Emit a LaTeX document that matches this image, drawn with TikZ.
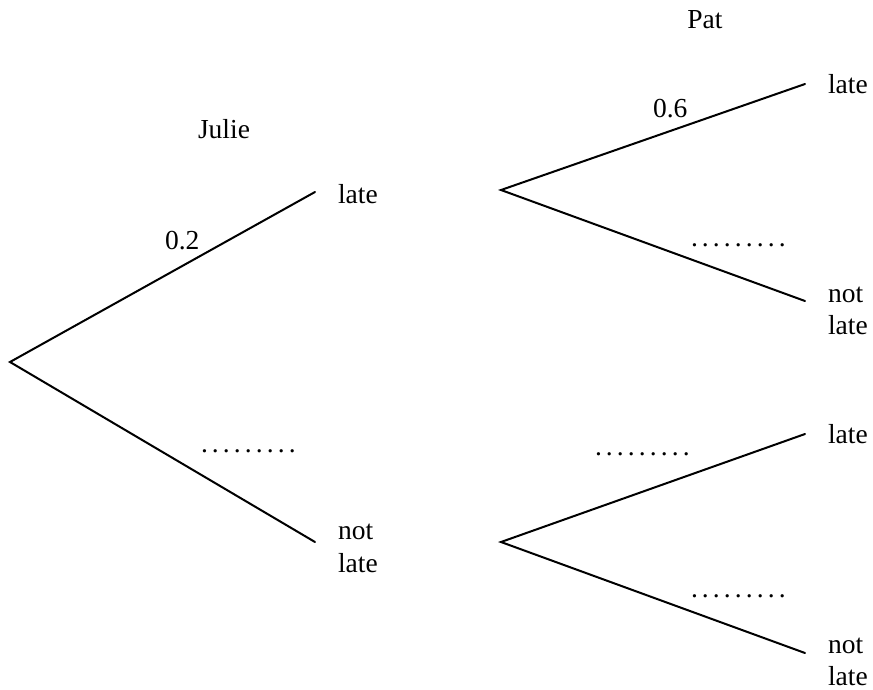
\documentclass[tikz,border=0pt]{standalone}
\usepackage{fontspec}
\setmainfont{Liberation Serif}
\newfontfamily\tms{Liberation Serif}
\newcommand\dotrow{.\hspace{4.1pt}.\hspace{4.1pt}.\hspace{4.1pt}.\hspace{4.1pt}.\hspace{4.1pt}.\hspace{4.1pt}.\hspace{4.1pt}.\hspace{4.1pt}.}
\begin{document}
\begin{tikzpicture}[x=1pt,y=-1pt,
  branch/.style={line width=2pt,line cap=round},
  lbl/.style={anchor=base west,inner sep=0pt,outer sep=0pt,font=\tms\fontsize{27.5}{33}\selectfont},
  ctr/.style={anchor=base,inner sep=0pt,outer sep=0pt,font=\tms\fontsize{27.5}{33}\selectfont}]
\useasboundingbox (0,0) rectangle (873,689);
% tree points
\coordinate (A) at (10,362);
\coordinate (AL) at (315,192);
\coordinate (AN) at (315,542);
\coordinate (B) at (501,190);
\coordinate (BL) at (805,84);
\coordinate (BN) at (805,301);
\coordinate (C) at (501,542);
\coordinate (CL) at (805,434);
\coordinate (CN) at (805,653);
% branches
\draw[branch] (AL) -- (A) -- (AN);
\draw[branch] (BL) -- (B) -- (BN);
\draw[branch] (CL) -- (C) -- (CN);
% headings
\node[ctr] (julie) at (224,138) {Julie};
\node[ctr] (pat) at (705,28) {Pat};
% outcome labels
\node[lbl] (t1) at (338,203) {late};
\node[lbl] (t2a) at (338,539) {not};
\node[lbl] (t2b) at (338,572) {late};
\node[lbl] (t3) at (828,93) {late};
\node[lbl] (t4a) at (828,302) {not};
\node[lbl] (t4b) at (828,334) {late};
\node[lbl] (t5) at (828,443) {late};
\node[lbl] (t6a) at (828,653) {not};
\node[lbl] (t6b) at (828,685) {late};
% probabilities
\node[lbl] (p1) at (165,249) {0.2};
\node[lbl] (p2) at (653,117) {0.6};
\node[lbl] (d1) at (201,452) {\dotrow};
\node[lbl] (d2) at (691,246) {\dotrow};
\node[lbl] (d3) at (595,455) {\dotrow};
\node[lbl] (d4) at (691,597) {\dotrow};
\end{tikzpicture}
\end{document}
